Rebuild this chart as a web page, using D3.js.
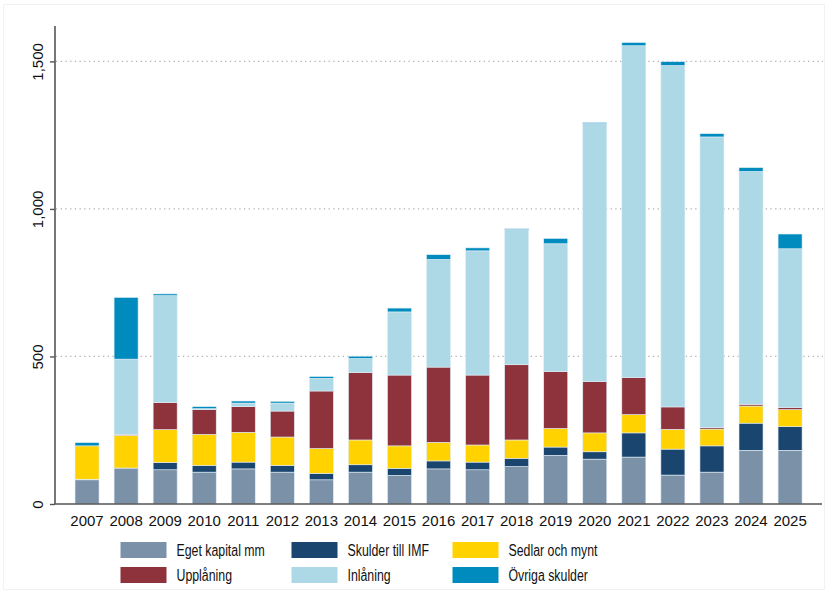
<!DOCTYPE html>
<html>
<head>
<meta charset="utf-8">
<style>
    body { margin: 0; background: #fff; }
    text { font-family: "Liberation Sans", Arial, sans-serif; fill: #111; }
</style>
</head>
<body>
<svg id="chart" width="828" height="593"></svg>

<script src="https://d3js.org/d3.v7.min.js"></script>
<script>
    // values
    let years = ['2007', '2008', '2009', '2010', '2011', '2012', '2013', '2014', '2015', '2016',
        '2017', '2018', '2019', '2020', '2021', '2022', '2023', '2024', '2025']
    let egetKapital = [82, 120, 116, 108, 119, 108, 82, 108, 97, 119, 116, 127, 165, 152, 159, 98, 108, 182, 182]
    let skulderImf = [2, 2, 25, 23, 23, 23, 22, 25, 24, 27, 26, 28, 28, 25, 82, 88, 89, 92, 80]
    let sedlar = [113, 111, 111, 105, 101, 96, 84, 84, 76, 63, 58, 62, 63, 64, 62, 67, 57, 58, 58]
    let upplaning = [0, 3, 92, 84, 87, 88, 195, 228, 240, 255, 237, 255, 193, 174, 126, 76, 5, 6, 7]
    let inlaning = [0, 255, 362, 3, 12, 27, 43, 48, 214, 365, 421, 458, 433, 874, 1124, 1157, 985, 789, 538]
    let ovriga = [11, 209, 6, 7, 7, 6, 6, 8, 13, 16, 10, 3, 18, 4, 11, 13, 11, 13, 50]
    let yTicks = [0, 500, 1000, 1500]

    let seriesNames = ['Eget kapital mm', 'Skulder till IMF', 'Sedlar och mynt', 'Upplåning', 'Inlåning', 'Övriga skulder']
    let seriesVals = [egetKapital, skulderImf, sedlar, upplaning, inlaning, ovriga]
    let colors = ['#7b91a8', '#1a456e', '#ffd200', '#8e333b', '#add8e6', '#008bbe']

    let svg = d3.select('#chart')

    // table for d3.stack
    let rows = years.map(function (y, i) {
        let r = { year: y }
        seriesNames.forEach(function (n, k) { r[n] = seriesVals[k][i] })
        return r
    })
    let stacked = d3.stack().keys(seriesNames)(rows)

    let x = d3.scaleBand().domain(years).range([67.5, 809.6]).paddingInner(0.385).paddingOuter(0.1925)
    let y = d3.scaleLinear().domain([0, 1620]).range([504, 26])

    // faint frame
    svg.append('rect').attr('x', 3.5).attr('y', 4.5).attr('width', 821).attr('height', 585)
        .attr('fill', 'none').attr('stroke', '#f2f2f2')

    // grid lines
    svg.append('g').selectAll('line')
        .data(yTicks.filter(d => d > 0))
        .join('line')
        .attr('x1', 56).attr('x2', 823)
        .attr('y1', d => y(d)).attr('y2', d => y(d))
        .attr('stroke', '#b0b0b0').attr('stroke-width', 1.2)
        .attr('stroke-dasharray', '1.3,3.4')

    // bars
    svg.append('g').selectAll('g')
        .data(stacked)
        .join('g')
        .attr('fill', (d, i) => colors[i])
        .selectAll('rect')
        .data(d => d)
        .join('rect')
        .attr('x', d => x(d.data.year))
        .attr('width', x.bandwidth())
        .attr('y', d => y(d[1]))
        .attr('height', d => y(d[0]) - y(d[1]))
        .attr('stroke', '#e3eef5').attr('stroke-width', 0.6)

    // y axis
    let yAxis = d3.axisLeft(y).tickValues(yTicks).tickFormat(d3.format(',')).tickSize(5).tickPadding(8)
    let yg = svg.append('g').attr('transform', 'translate(55,0)').call(yAxis)
    yg.select('.domain').attr('d', 'M0,26V504').attr('stroke', '#555').attr('stroke-width', 1.6)
    yg.selectAll('.tick line').attr('stroke', '#555').attr('stroke-width', 1.4)
    // the tick group is already moved to y(d), so only shift left and turn
    yg.selectAll('.tick text')
        .attr('font-size', 15).attr('fill', '#111')
        .attr('text-anchor', 'middle')
        .attr('transform', 'translate(-17,0) rotate(-90)')
        .attr('x', 0).attr('y', 0).attr('dy', '0.35em')

    // x axis
    let xAxis = d3.axisBottom(x).tickSize(0).tickPadding(11)
    let xg = svg.append('g').attr('transform', 'translate(0,504)').call(xAxis)
    xg.select('.domain').attr('d', 'M55,0H822').attr('stroke', '#555').attr('stroke-width', 1.6)
    xg.selectAll('.tick text').attr('font-size', 15).attr('fill', '#111')

    // legend (text in the original is condensed, so squeeze it)
    let legX = [120.5, 291.5, 452.5]
    let legY = [542, 567]
    let leg = svg.append('g')
    seriesNames.forEach(function (n, i) {
        let cx = legX[i % 3]
        let cy = legY[Math.floor(i / 3)]
        leg.append('rect').attr('x', cx).attr('y', cy).attr('width', 46).attr('height', 16)
            .attr('fill', colors[i])
        let t = leg.append('text').attr('x', cx + 56).attr('y', cy + 14)
            .attr('font-size', 16).text(n)
        let w = t.node().getComputedTextLength()
        t.attr('textLength', w * 0.77).attr('lengthAdjust', 'spacingAndGlyphs')
    })
</script>
</body>
</html>
